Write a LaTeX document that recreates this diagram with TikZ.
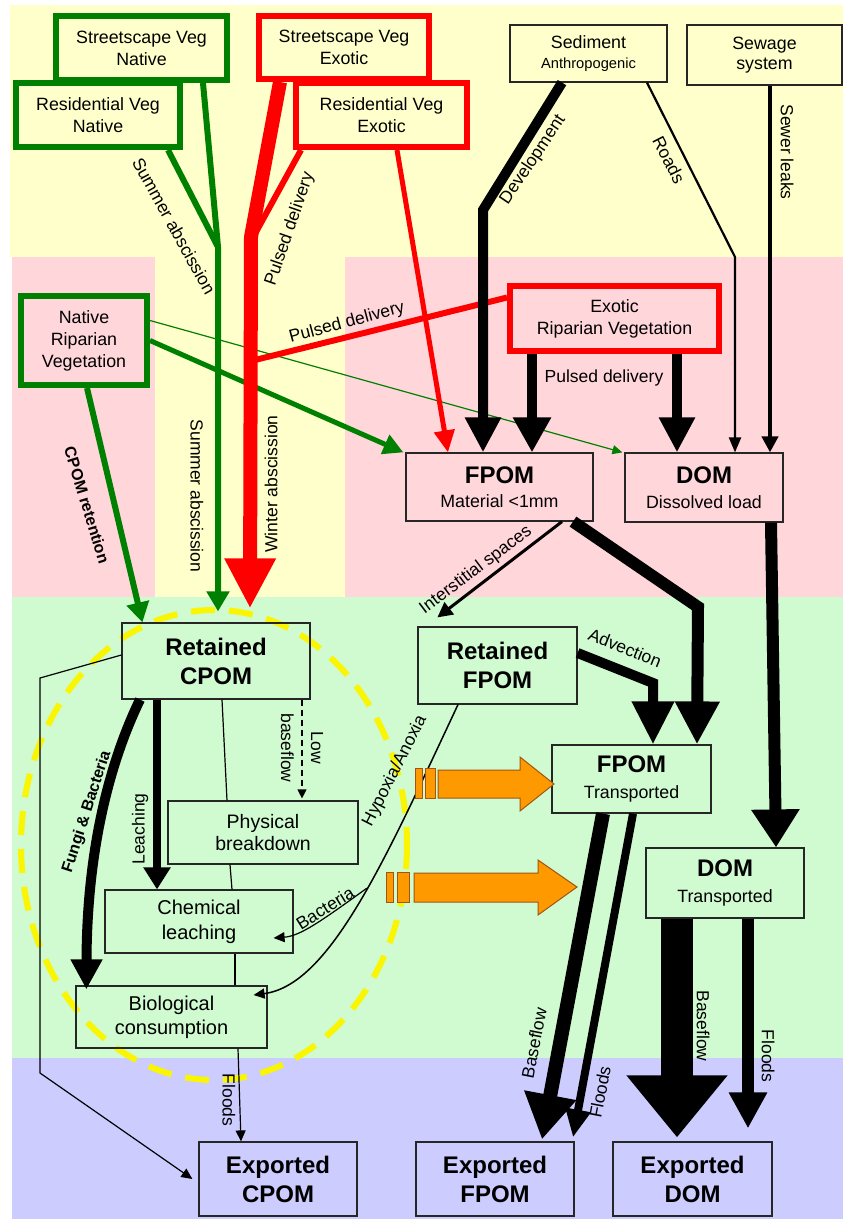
\documentclass[tikz,border=0pt]{standalone}
\usepackage{fontspec}
\setmainfont{Liberation Sans}
\usetikzlibrary{arrows.meta, positioning, calc}
\usepackage{xcolor}
\definecolor{vgreen}{RGB}{0,128,0}
\definecolor{vred}{RGB}{255,0,0}
\definecolor{bgyel}{RGB}{255,255,204}
\definecolor{bgpink}{RGB}{255,214,218}
\definecolor{bggreen}{RGB}{208,250,208}
\definecolor{bgblue}{RGB}{204,204,255}
\definecolor{dashyel}{RGB}{250,245,0}
\definecolor{orng}{RGB}{255,153,0}
\definecolor{orngline}{RGB}{160,85,20}
\newcommand\headfont{\fontsize{24}{29}\selectfont\bfseries}
\newcommand\boxsub{\fontsize{17.8}{22}\selectfont\mdseries}

\begin{document}
\begin{tikzpicture}[x=1pt, y=-1pt,
  box/.style={draw=black!85, line width=1.2pt, align=center, inner sep=2pt,
              font=\fontsize{17.8}{22}\selectfont},
  gbox/.style={box, draw=vgreen, line width=6pt},
  rbox/.style={box, draw=vred, line width=6pt},
  lab/.style={inner sep=0pt, font=\fontsize{17.5}{20}\selectfont},
  blab/.style={inner sep=0pt, font=\fontsize{16}{19}\selectfont\bfseries},
  ahead/.style 2 args={-{Triangle[width=#1, length=#2]}},
  gflow/.style={draw=vgreen, line width=#1},
  rflow/.style={draw=vred, line width=#1},
  kflow/.style={draw=black, line width=#1},
  blockarr/.style={fill=orng, draw=orngline, line width=1pt}
]
\useasboundingbox (0,0) rectangle (843,1219);
\fill[white] (0,0) rectangle (843,1219);
\fill[bgyel] (10,5) rectangle (843,257);
\fill[bgpink] (12,257) rectangle (155,597);
\fill[bgyel] (155,257) rectangle (345,597);
\fill[bgpink] (345,257) rectangle (843,597);
\fill[bggreen] (12,597) rectangle (843,1058);
\fill[bgblue] (12,1058) rectangle (843,1219);

\draw[dashyel, line width=6pt, dash pattern=on 24pt off 14pt] (214,845) ellipse [x radius=193, y radius=235];

% sources
\node[gbox, minimum width=171pt, minimum height=64pt] (sn) at (141.5,48) {Streetscape Veg\\Native};
\node[gbox, minimum width=164pt, minimum height=64pt] (rn) at (98,115) {Residential Veg\\Native};
\node[rbox, minimum width=170pt, minimum height=63pt] (se) at (344,47.5) {Streetscape Veg\\Exotic};
\node[rbox, minimum width=171pt, minimum height=64pt] (re) at (381.5,115) {Residential Veg\\Exotic};
\node[box, minimum width=157pt, minimum height=57pt] (sed) at (588.5,53.5) {Sediment\\[-2pt]{\fontsize{14.7}{17}\selectfont Anthropogenic}};
\node[box, minimum width=155pt, minimum height=60pt] (sew) at (764.5,55) {Sewage\\[-2pt]system};
\node[gbox, minimum width=126pt, minimum height=89pt] (nrv) at (84,340.5) {Native\\Riparian\\Vegetation};
\node[rbox, minimum width=209pt, minimum height=65pt] (erv) at (614.5,318.5) {Exotic\\Riparian Vegetation};

% pools
\node[box, font=\headfont, minimum width=187pt, minimum height=68pt] (fpom) at (499.5,487) {FPOM\\[-5pt]{\boxsub Material <1mm}};
\node[box, font=\headfont, minimum width=158pt, minimum height=69pt] (dom) at (704,487.5) {DOM\\[-4pt]{\boxsub Dissolved load}};
\node[box, font=\headfont, minimum width=188pt, minimum height=76pt] (rcpom) at (216,661) {Retained\\CPOM};
\node[box, font=\headfont, minimum width=159pt, minimum height=77pt] (rfpom) at (497.5,665.5) {Retained\\FPOM};
\node[box, font=\fontsize{19.5}{22}\selectfont, minimum width=190pt, minimum height=63pt] (pb) at (263,832.5) {Physical\\breakdown};
\node[box, font=\fontsize{20}{25}\selectfont, minimum width=188pt, minimum height=63pt] (cl) at (199,921.5) {Chemical\\leaching};
\node[box, font=\fontsize{20}{24}\selectfont, minimum width=191pt, minimum height=62pt] (bc) at (171.5,1017) {Biological\\consumption};
\node[box, font=\headfont, minimum width=159pt, minimum height=68pt] (tfpom) at (631.5,779) {FPOM\\[-3pt]{\boxsub Transported}};
\node[box, font=\headfont, minimum width=158pt, minimum height=70pt] (tdom) at (725,883) {DOM\\[-3pt]{\boxsub Transported}};
\node[box, font=\headfont, minimum width=158pt, minimum height=74pt] (ecpom) at (278,1179) {Exported\\CPOM};
\node[box, font=\headfont, minimum width=158pt, minimum height=74pt] (efpom) at (495,1179) {Exported\\FPOM};
\node[box, font=\headfont, minimum width=159pt, minimum height=74pt] (edom) at (692.5,1179) {Exported\\DOM};

% bends
\coordinate (jg) at (218,247);
\coordinate (jr) at (251,237);
\coordinate (jr2) at (256,232);
\coordinate (jr3) at (255,360);
\coordinate (jd) at (483,210);
\coordinate (jroad) at (735,257);
\coordinate (jt) at (698,607);
\coordinate (ja) at (653,683);
\coordinate (cb1) at (40,678);
\coordinate (cb2) at (40,1073);

% native vegetation
\draw[gflow=6pt] ($(rn.south)+(70,0)$) -- (jg);
\draw[gflow=6pt, ahead={22pt}{20pt}] ($(sn.south)+(61.5,0)$) -- (jg) -- ($(rcpom.north)+(2,-11)$);
\draw[gflow=5pt, ahead={20pt}{20pt}] (nrv.east) -- ($(fpom.north west)+(-2,0)$);
\draw[gflow=1.2pt, ahead={9pt}{10pt}] ($(nrv.east)+(0,-20)$) -- ($(dom.north west)+(-2,0)$);
\draw[gflow=6pt, ahead={22pt}{20pt}] ($(nrv.south)+(3,0)$) -- ($(rcpom.north west)+(21,0)$);

% exotic vegetation
\draw[rflow=14pt, ahead={48pt}{50pt}] ($(se.south)+(-64,0)$) -- (jr) -- ($(rcpom.north)+(34,-14)$);
\draw[rflow=6pt] ($(re.south west)+(8,0)$) -- (jr2);
\draw[rflow=6pt] ($(erv.west)+(0,-21)$) -- (jr3);
\draw[rflow=5pt, ahead={20pt}{22pt}] ($(re.south)+(15.5,0)$) -- ($(fpom.north)+(-51.5,0)$);

% anthropogenic
\draw[kflow=10pt, ahead={34pt}{35pt}] ($(sed.south)+(-26.5,0)$) -- (jd) -- ($(fpom.north)+(-16.5,0)$);
\draw[kflow=10pt, ahead={36pt}{35pt}] ($(erv.south)+(-82.5,0)$) -- ($(fpom.north)+(32.5,0)$);
\draw[kflow=10pt, ahead={34pt}{35pt}] ($(erv.south)+(62.5,0)$) -- ($(dom.north)+(-27,0)$);
\draw[kflow=2.2pt, ahead={12pt}{15pt}] ($(sed.south)+(58.5,0)$) -- (jroad) -- ($(dom.north)+(31,0)$);
\draw[kflow=4pt, ahead={16pt}{16pt}] ($(sew.south)+(5.5,0)$) -- ($(dom.north)+(66,0)$);

% in-stream
\draw[kflow=3pt, ahead={15pt}{15pt}] ($(fpom.south)+(62.5,0)$) -- ($(rfpom.north west)+(20,-9)$);
\draw[kflow=12pt, ahead={42pt}{43pt}] ($(fpom.south)+(73.5,0)$) -- (jt) -- ($(tfpom.north)+(65.5,0)$);
\draw[kflow=10pt, ahead={40pt}{43pt}] ($(rfpom.east)+(0,-12.5)$) -- (ja) -- ($(tfpom.north)+(21.5,0)$);
\draw[kflow=12pt, ahead={46pt}{38pt}] ($(dom.south)+(67,0)$) -- ($(tdom.north)+(51,0)$);

% CPOM processing
\draw[kflow=8pt, ahead={26pt}{22pt}] ($(rcpom.south)+(-59,0)$) -- ($(cl.north)+(-42,0)$);
\draw[kflow=10pt, ahead={30pt}{30pt}] ($(rcpom.south)+(-76,0)$) .. controls (118,745) and (87,830) .. ($(bc.north west)+(11,4)$);
\draw[kflow=1.2pt] ($(rcpom.south)+(6,0)$) -- ($(pb.north)+(-36,0)$);
\draw[kflow=1.2pt, dash pattern=on 6pt off 4pt, ahead={9pt}{9pt}] ($(rcpom.south)+(86,0)$) -- ($(pb.north)+(39,-2)$);
\draw[kflow=1.2pt] ($(pb.south)+(-33,0)$) -- ($(cl.north)+(33,0)$);
\draw[kflow=1.2pt] ($(cl.south)+(36,0)$) -- ($(bc.north)+(63.5,0)$);
\draw[kflow=1.2pt, ahead={10pt}{11pt}] ($(bc.south)+(66.5,0)$) -- ($(ecpom.north)+(-37,0)$);
\draw[kflow=1.2pt, ahead={10pt}{11pt}] ($(rcpom.west)+(0,-6)$) -- (cb1) -- (cb2) -- ($(ecpom.west)+(-6,0)$);
\draw[kflow=1.5pt, ahead={10pt}{11pt}] ($(rfpom.south)+(-39.5,0)$) .. controls (385,860) and (330,985) .. coordinate[pos=0.45] (hyp) ($(bc.east)+(-14,-22)$);
\draw[kflow=1.2pt, ahead={10pt}{11pt}] (hyp) .. controls (320,922) and (300,936) .. ($(cl.east)+(-20,16.5)$);

% export
\draw[kflow=14pt, ahead={50pt}{45pt}] ($(tfpom.south)+(-28.5,0)$) -- ($(efpom.north)+(47,-2)$);
\draw[kflow=8pt, ahead={24pt}{28pt}] ($(tfpom.south)+(1.5,0)$) -- ($(efpom.north)+(78,-4)$);
\draw[kflow=32pt, ahead={97pt}{62pt}] ($(tdom.south)+(-48,0)$) -- ($(edom.north)+(-15.5,-4)$);
\draw[kflow=12pt, ahead={36pt}{36pt}] ($(tdom.south)+(23,0)$) -- ($(edom.north)+(55.5,-13)$);

% block arrows
\draw[blockarr] (415,768) rectangle (422,798);
\draw[blockarr] (425,768) rectangle (435,798);
\draw[blockarr] (438,770) -- (520,770) -- (520,757) -- (554,784) -- (520,811) -- (520,798) -- (438,798) -- cycle;
\draw[blockarr] (386,872) rectangle (393,902);
\draw[blockarr] (397,872) rectangle (409,902);
\draw[blockarr] (414,873) -- (538,873) -- (538,860) -- (577,887) -- (538,915) -- (538,902) -- (414,902) -- cycle;

% labels
\node[lab, rotate=-61] (lsum1) at (174,226) {Summer abscission};
\node[lab, rotate=-90] (lsum2) at (197,496) {Summer abscission};
\node[lab, rotate=90] (lwin) at (271,484) {Winter abscission};
\node[lab, rotate=71] (lpul1) at (290,229) {Pulsed delivery};
\node[lab, rotate=15] (lpul2) at (347,323) {Pulsed delivery};
\node[lab] (lpul3) at (604,378) {Pulsed delivery};
\node[blab, rotate=-73] (lcpom) at (87,505) {CPOM retention};
\node[lab, rotate=56] (ldev) at (533,160) {Development};
\node[lab, rotate=-63] (lroad) at (669,160) {Roads};
\node[lab, rotate=-90] (lsew) at (787,152) {Sewer leaks};
\node[lab, rotate=37] (lint) at (476,570) {Interstitial spaces};
\node[lab, rotate=-22] (ladv) at (625,648) {Advection};
\node[lab, rotate=90] (lleach) at (140,829) {Leaching};
\node[blab, rotate=72] (lfungi) at (87,812) {Fungi \& Bacteria};
\node[lab, rotate=-90, align=center, font=\fontsize{17.5}{30}\selectfont] (llow) at (302,748) {Low\\baseflow};
\node[lab, rotate=63] (lhyp) at (395,771) {Hypoxia/Anoxia};
\node[lab, rotate=32] (lbac) at (325,908) {Bacteria};
\node[lab, rotate=-90] (lfl1) at (229,1100) {Floods};
\node[lab, rotate=79] (lbf1) at (534,1043) {Baseflow};
\node[lab, rotate=79] (lfl2) at (600,1092) {Floods};
\node[lab, rotate=-90] (lbf2) at (703,1026) {Baseflow};
\node[lab, rotate=-90] (lfl3) at (768,1056) {Floods};
\end{tikzpicture}
\end{document}
